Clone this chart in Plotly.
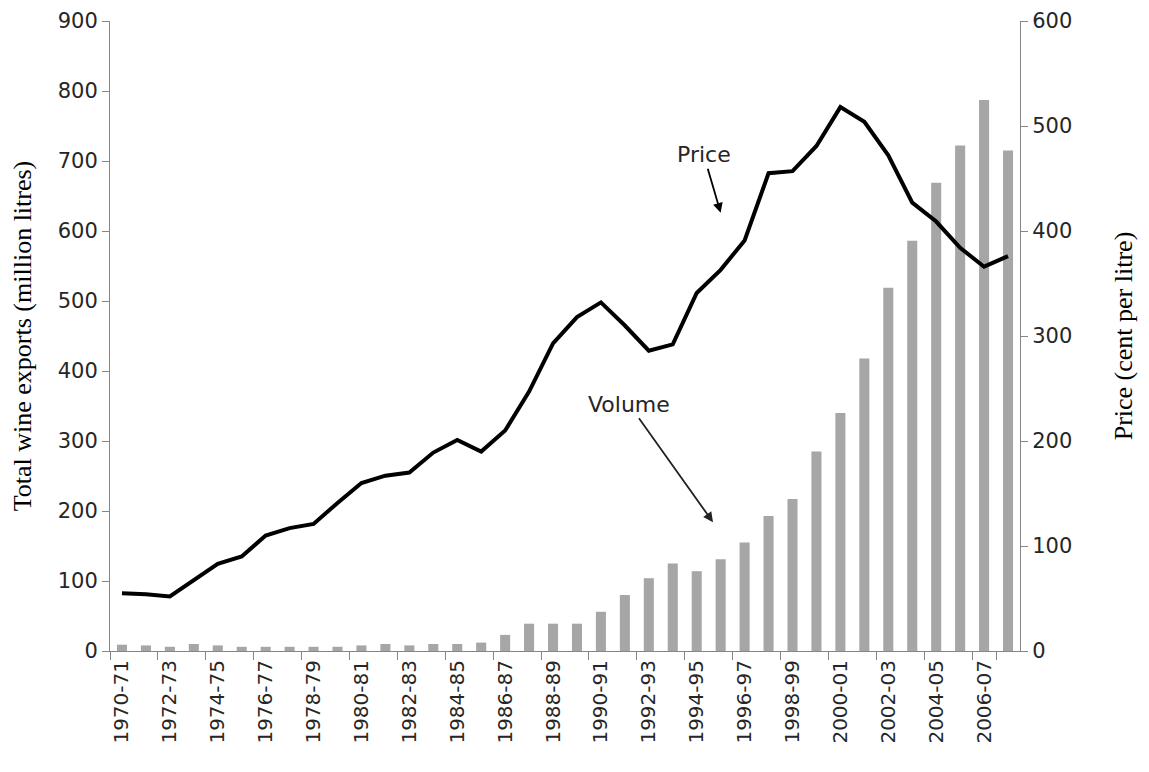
import plotly.graph_objects as go

# 财年
years = [f"{y}-{str(y + 1)[-2:]}" for y in range(1970, 2008)]

# 出口量 (million litres)
volume = [9, 8, 6, 10, 8, 6, 6, 6, 6, 6,
          8, 10, 8, 10, 10, 12, 23, 39, 39, 39,
          56, 80, 104, 125, 114, 131, 155, 193, 217, 285,
          340, 418, 519, 586, 669, 722, 787, 715]

# 价格 (cent per litre)
price = [55, 54, 52, 68, 83, 90, 110, 117, 121, 141,
         160, 167, 170, 189, 201, 190, 210, 247, 293, 318,
         332, 310, 286, 292, 341, 363, 391, 455, 457, 481,
         518, 504, 472, 427, 409, 384, 366, 376]

tick_labels = years[::2]

axis_color = "#868686"
tick_font = dict(family="DejaVu Sans", size=21, color="#262626")
xtick_font = dict(family="DejaVu Sans", size=20, color="#262626")
title_font = dict(family="Liberation Serif", size=26, color="#000000")
note_font = dict(family="DejaVu Sans", size=22, color="#262626")

fig = go.Figure()

fig.add_trace(
    go.Bar(x=years, y=volume, name="Volume", marker=dict(color="#A6A6A6", line=dict(width=0)), width=0.42)
)
fig.add_trace(
    go.Scatter(x=years, y=price, name="Price", mode="lines", yaxis="y2", line=dict(color="#000000", width=4))
)

fig.update_layout(
    width=1149,
    height=772,
    margin=dict(l=102, r=137, t=13, b=129),
    plot_bgcolor="white",
    paper_bgcolor="white",
    showlegend=False,
    xaxis=dict(
        type="category",
        tickmode="array",
        tickvals=tick_labels,
        ticktext=tick_labels,
        tickangle=-90,
        tickfont=xtick_font,
        showline=True,
        linecolor=axis_color,
        linewidth=1,
        ticks="outside",
        tickson="boundaries",
        ticklen=8,
        tickcolor=axis_color,
        showgrid=False,
        range=[-0.5, 37.5],
        automargin=False,
    ),
    yaxis=dict(
        range=[0, 900],
        dtick=100,
        tickfont=tick_font,
        showline=True,
        linecolor=axis_color,
        ticks="outside",
        ticklen=7,
        tickcolor=axis_color,
        showgrid=False,
        zeroline=False,
        automargin=False,
        title=dict(text="Total wine exports (million litres)", font=title_font, standoff=20),
    ),
    yaxis2=dict(
        range=[0, 600],
        dtick=100,
        overlaying="y",
        side="right",
        tickfont=tick_font,
        showline=True,
        linecolor=axis_color,
        ticks="outside",
        ticklen=7,
        tickcolor=axis_color,
        showgrid=False,
        zeroline=False,
        automargin=False,
        title=dict(text="Price (cent per litre)", font=title_font, standoff=42),
    ),
)

# 注释箭头
fig.add_annotation(
    x=25.0, y=626, xref="x", yref="y", text="Price", showarrow=True,
    ax=-17, ay=-58, arrowhead=2, arrowsize=1.1, arrowwidth=1.8, arrowcolor="#000000",
    font=note_font,
)
fig.add_annotation(
    x=24.68, y=184, xref="x", yref="y", text="Volume", showarrow=True,
    ax=-84, ay=-118, arrowhead=2, arrowsize=1.1, arrowwidth=1.8, arrowcolor="#222222",
    font=note_font,
)

fig.write_html("out.html")
